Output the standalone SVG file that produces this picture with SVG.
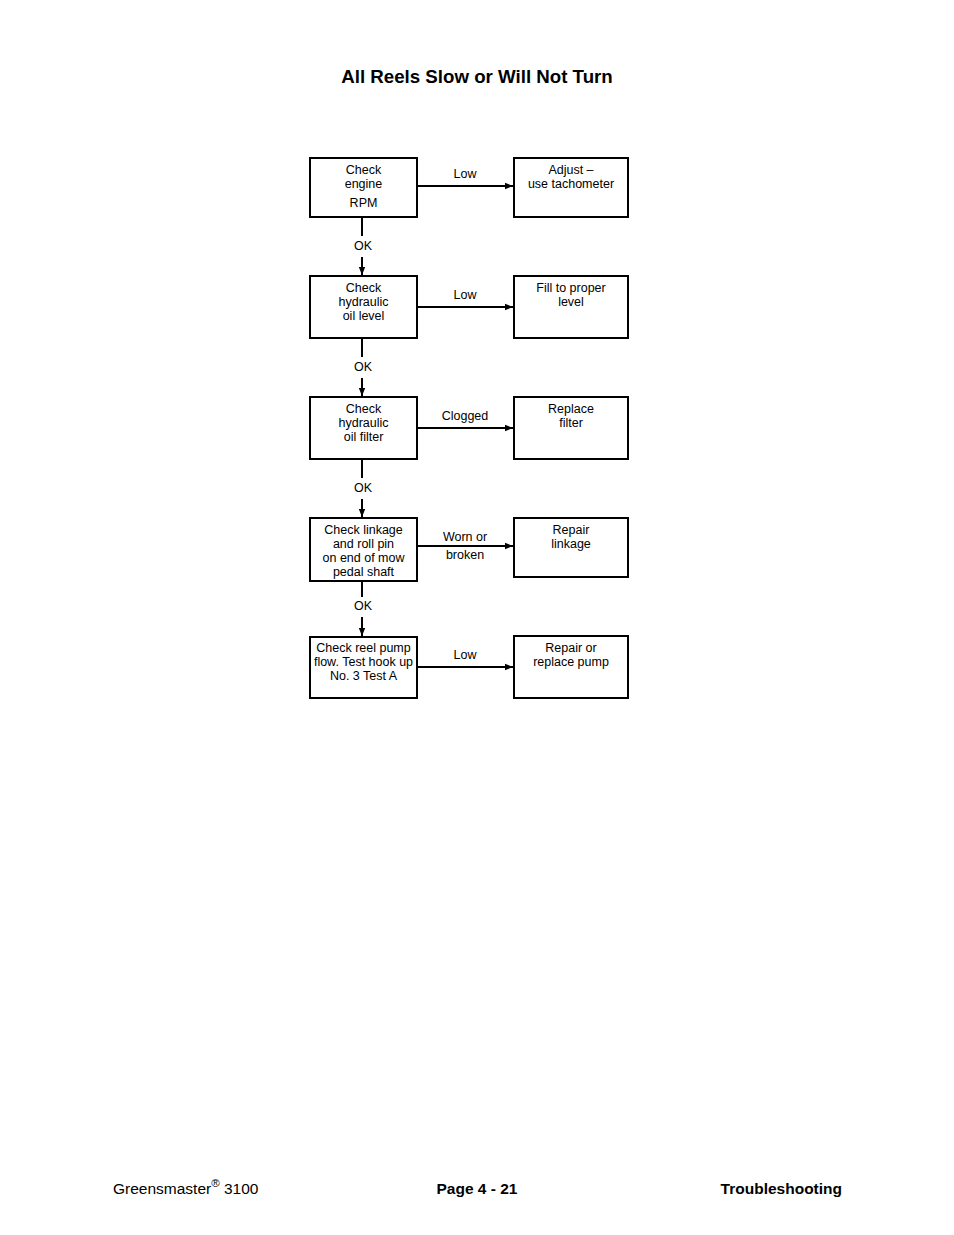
<svg xmlns="http://www.w3.org/2000/svg" width="954" height="1235" viewBox="0 0 954 1235">
<style>
text{font-family:"Liberation Sans",Arial,sans-serif;fill:#000}
.t{font-size:12.5px;text-anchor:middle}
.box{fill:#fff;stroke:#000;stroke-width:2}
.ln{stroke:#000;stroke-width:2;fill:none}
</style>
<defs>
<marker id="ah" viewBox="0 0 10 10" refX="10" refY="5" markerWidth="4" markerHeight="4" orient="auto" markerUnits="strokeWidth">
<path d="M0,1 L10,5 L0,9 z" fill="#000"/>
</marker>
</defs>
<rect width="954" height="1235" fill="#fff"/>
<text x="477" y="83" style="font-size:18.7px;font-weight:bold;text-anchor:middle">All Reels Slow or Will Not Turn</text>

<g id="connectors">
<line class="ln" x1="417" y1="186" x2="513" y2="186" marker-end="url(#ah)"/>
<line class="ln" x1="417" y1="307" x2="513" y2="307" marker-end="url(#ah)"/>
<line class="ln" x1="417" y1="428" x2="513" y2="428" marker-end="url(#ah)"/>
<line class="ln" x1="417" y1="546" x2="513" y2="546" marker-end="url(#ah)"/>
<line class="ln" x1="417" y1="667" x2="513" y2="667" marker-end="url(#ah)"/>
<line class="ln" x1="362" y1="217" x2="362" y2="236"/>
<line class="ln" x1="362" y1="257" x2="362" y2="275" marker-end="url(#ah)"/>
<line class="ln" x1="362" y1="338" x2="362" y2="357"/>
<line class="ln" x1="362" y1="378" x2="362" y2="396" marker-end="url(#ah)"/>
<line class="ln" x1="362" y1="459" x2="362" y2="478"/>
<line class="ln" x1="362" y1="499" x2="362" y2="517" marker-end="url(#ah)"/>
<line class="ln" x1="362" y1="582" x2="362" y2="597"/>
<line class="ln" x1="362" y1="617" x2="362" y2="636" marker-end="url(#ah)"/>
<text class="t" x="465" y="178">Low</text>
<text class="t" x="465" y="299">Low</text>
<text class="t" x="465" y="420">Clogged</text>
<text class="t" x="465" y="541">Worn or</text>
<text class="t" x="465" y="559">broken</text>
<text class="t" x="465" y="659">Low</text>
<text class="t" x="363" y="250">OK</text>
<text class="t" x="363" y="371">OK</text>
<text class="t" x="363" y="492">OK</text>
<text class="t" x="363" y="610">OK</text>
</g>

<g id="n1"><rect class="box" x="310" y="158" width="107" height="59"/>
<text class="t" x="363.5" y="174">Check</text><text class="t" x="363.5" y="188">engine</text><text class="t" x="363.5" y="207">RPM</text></g>
<g id="r1"><rect class="box" x="514" y="158" width="114" height="59"/>
<text class="t" x="571" y="174">Adjust –</text><text class="t" x="571" y="188">use tachometer</text></g>

<g id="n2"><rect class="box" x="310" y="276" width="107" height="62"/>
<text class="t" x="363.5" y="292">Check</text><text class="t" x="363.5" y="306">hydraulic</text><text class="t" x="363.5" y="320">oil level</text></g>
<g id="r2"><rect class="box" x="514" y="276" width="114" height="62"/>
<text class="t" x="571" y="292">Fill to proper</text><text class="t" x="571" y="306">level</text></g>

<g id="n3"><rect class="box" x="310" y="397" width="107" height="62"/>
<text class="t" x="363.5" y="413">Check</text><text class="t" x="363.5" y="427">hydraulic</text><text class="t" x="363.5" y="441">oil filter</text></g>
<g id="r3"><rect class="box" x="514" y="397" width="114" height="62"/>
<text class="t" x="571" y="413">Replace</text><text class="t" x="571" y="427">filter</text></g>

<g id="n4"><rect class="box" x="310" y="518" width="107" height="63"/>
<text class="t" x="363.5" y="534">Check linkage</text><text class="t" x="363.5" y="548">and roll pin</text><text class="t" x="363.5" y="562">on end of mow</text><text class="t" x="363.5" y="576">pedal shaft</text></g>
<g id="r4"><rect class="box" x="514" y="518" width="114" height="59"/>
<text class="t" x="571" y="534">Repair</text><text class="t" x="571" y="548">linkage</text></g>

<g id="n5"><rect class="box" x="310" y="637" width="107" height="61"/>
<text class="t" x="363.5" y="652">Check reel pump</text><text class="t" x="363.5" y="666">flow. Test hook up</text><text class="t" x="363.5" y="680">No. 3 Test A</text></g>
<g id="r5"><rect class="box" x="514" y="636" width="114" height="62"/>
<text class="t" x="571" y="652">Repair or</text><text class="t" x="571" y="666">replace pump</text></g>

<text x="113" y="1194" style="font-size:15.5px">Greensmaster<tspan dy="-7" style="font-size:11.5px">®</tspan><tspan dy="7"> 3100</tspan></text>
<text x="477" y="1194" style="font-size:15.5px;font-weight:bold;text-anchor:middle">Page 4 - 21</text>
<text x="842" y="1194" style="font-size:15.5px;font-weight:bold;text-anchor:end">Troubleshooting</text>
</svg>
